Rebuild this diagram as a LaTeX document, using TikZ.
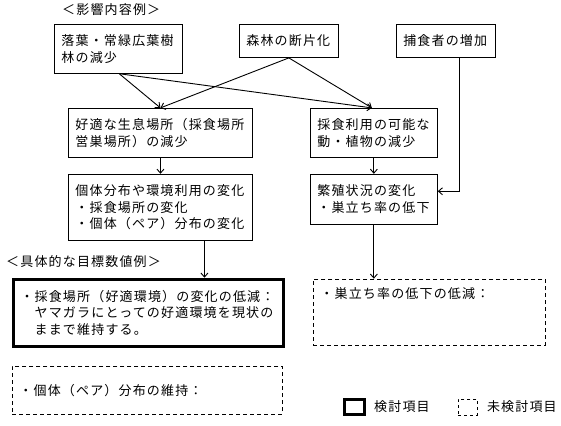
\documentclass[tikz,border=0pt]{standalone}
\usepackage{fontspec}
\setmainfont{Noto Sans CJK JP}[LetterSpace=9]
\usetikzlibrary{arrows.meta, positioning}
\newcommand{\jptext}{\fontsize{13pt}{16.5pt}\selectfont}
\tikzset{
    box/.style={
        rectangle, draw=black, line width=0.9pt, anchor=north west,
        inner xsep=7pt, inner ysep=0pt, align=left, font=\jptext
    },
    goalbox/.style={box, line width=3pt},
    openbox/.style={box, dash pattern=on 4pt off 3pt},
    notetext/.style={inner sep=0pt, anchor=west, font=\jptext},
    conn/.style={draw=black, line width=0.9pt, -{Straight Barb[length=4pt,width=7pt]}},
    keysolid/.style={draw=black, line width=3pt, minimum width=20pt, minimum height=15pt, inner sep=0pt},
    keydash/.style={draw=black, line width=0.9pt, dash pattern=on 3pt off 3pt, minimum width=19pt, minimum height=16pt, inner sep=0pt}
}
\begin{document}
\begin{tikzpicture}[x=1pt, y=-1pt]
\useasboundingbox (0,0) rectangle (561,425);

% Impact sources
\node[box, minimum width=128pt, text width=114pt, minimum height=49pt] (leaf) at (54,24) {落葉・常緑広葉樹\\林の減少};
\node[box, minimum width=99pt, text width=85pt, minimum height=33pt, right=56pt of leaf.north east, anchor=north west] (frag) {森林の断片化};
\node[box, minimum width=99pt, text width=85pt, minimum height=33pt, right=57pt of frag.north east, anchor=north west] (pred) {捕食者の増加};
\node[notetext] (impactlbl) at ([xshift=8pt, yshift=14pt]leaf.north west) {＜影響内容例＞};

% Effects on habitat and breeding
\node[box, minimum width=184pt, text width=170pt, minimum height=49pt, below=34pt of leaf.south west, anchor=north west, xshift=14pt] (habitat) {好適な生息場所（採食場所\\営巣場所）の減少};
\node[box, minimum width=127pt, text width=113pt, minimum height=49pt, right=57pt of habitat.north east, anchor=north west] (food) {採食利用の可能な\\動・植物の減少};
\node[box, minimum width=184pt, text width=170pt, minimum height=66pt, below=16pt of habitat.south west, anchor=north west] (distrib) {個体分布や環境利用の変化\\・採食場所の変化\\・個体（ペア）分布の変化};
\node[box, minimum width=127pt, text width=113pt, minimum height=50pt, below=16pt of food.south west, anchor=north west] (breed) {繁殖状況の変化\\・巣立ち率の低下};

% Target values
\node[goalbox, minimum width=270pt, text width=256pt, minimum height=67pt, below=37pt of distrib.south west, anchor=north west, xshift=-56pt] (goalhab) {・採食場所（好適環境）の変化の低減：\\　ヤマガラにとっての好適環境を現状の\\　ままで維持する。};
\node[openbox, minimum width=232pt, text width=218pt, minimum height=66pt, right=28pt of goalhab.north east, anchor=north west, yshift=-1pt] (goalbreed) {・巣立ち率の低下の低減：\\\strut\\\strut};
\node[openbox, minimum width=270pt, text width=256pt, minimum height=48pt, below=18pt of goalhab.south west, anchor=north west] (goalpair) {・個体（ペア）分布の維持：};
\node[notetext] (goallbl) at ([xshift=-6pt, yshift=16pt]goalhab.north west) {＜具体的な目標数値例＞};

% Connections
\draw[conn] ([xshift=1pt]leaf.south) -- (habitat.north);
\draw[conn] ([xshift=2pt]leaf.south) -- ([xshift=-2pt]food.north);
\draw[conn] (frag.south) -- (habitat.north);
\draw[conn] (frag.south) -- ([xshift=-2pt]food.north);
\draw[conn] (habitat) -- (distrib);
\draw[conn] (food) -- (breed);
\draw[conn] ([xshift=-36pt]pred.south east) |- ([yshift=8pt]breed.east);
\coordinate (distout) at ([xshift=44pt]distrib.south);
\draw[conn] (distout) -- (distout |- goalhab.north);
\draw[conn] (breed.south) -- (breed.south |- goalbreed.north);

% Legend
\node[keysolid] (keydone) at (354.5,407) {};
\node[notetext, right=8pt of keydone] (keydonetxt) {検討項目};
\node[keydash, right=28pt of keydonetxt] (keyopen) {};
\node[notetext, right=9pt of keyopen] (keyopentxt) {未検討項目};

\end{tikzpicture}
\end{document}
